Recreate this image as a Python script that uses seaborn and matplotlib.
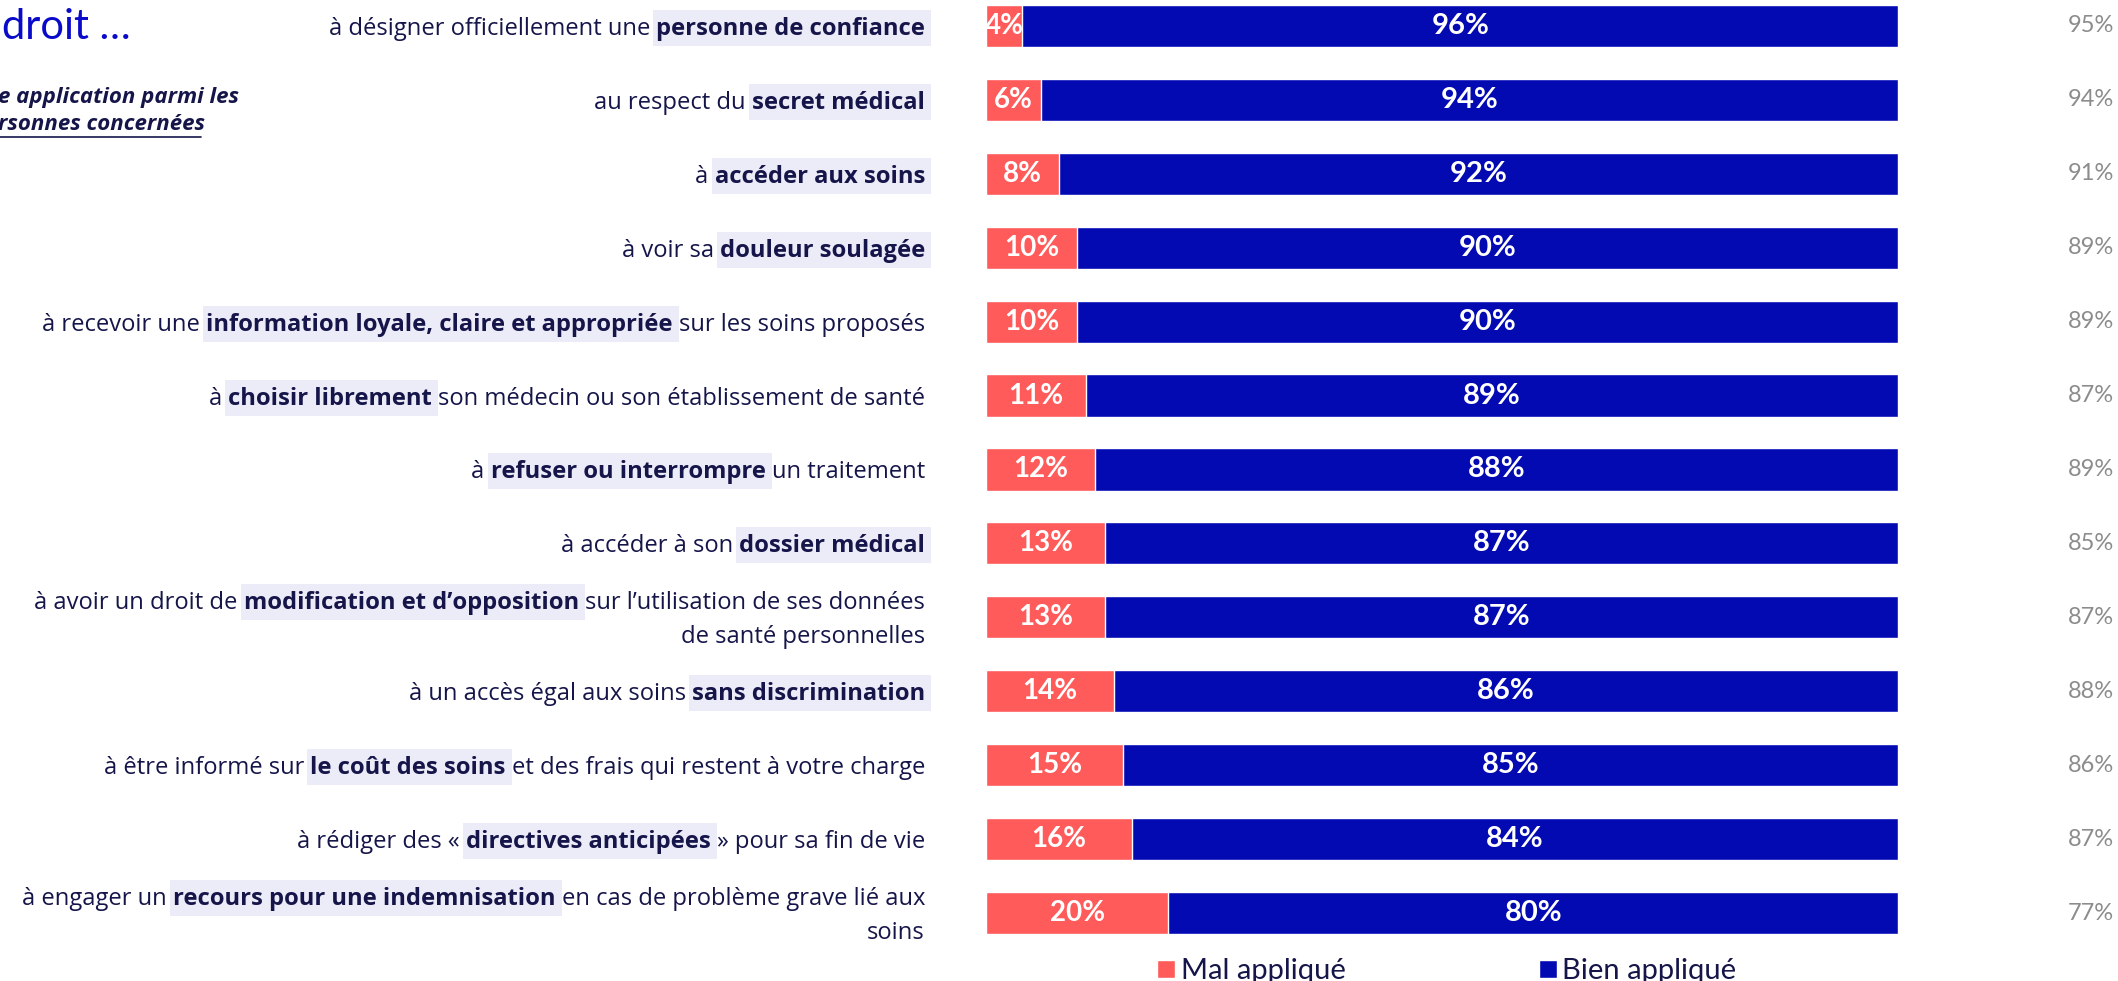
import matplotlib
matplotlib.use('Agg')
import pandas as pd
import seaborn as sns
import matplotlib.pyplot as plt
import matplotlib.transforms as mtransforms
from matplotlib.patches import Patch, Rectangle
from matplotlib.lines import Line2D

# valeurs
mal = [4, 6, 8, 10, 10, 11, 12, 13, 13, 14, 15, 16, 20]
bien = [96, 94, 92, 90, 90, 89, 88, 87, 87, 86, 85, 84, 80]
precedent = [95, 94, 91, 89, 89, 87, 89, 85, 87, 88, 86, 87, 77]

debut = ["à désigner officiellement une", "au respect du", "à", "à voir sa",
         "à recevoir une", "à", "à", "à accéder à son", "à avoir un droit de",
         "à un accès égal aux soins", "à être informé sur", "à rédiger des «",
         "à engager un"]
gras = ["personne de confiance", "secret médical", "accéder aux soins",
        "douleur soulagée", "information loyale, claire et appropriée",
        "choisir librement", "refuser ou interrompre", "dossier médical",
        "modification et d’opposition", "sans discrimination",
        "le coût des soins", "directives anticipées",
        "recours pour une indemnisation"]
fin = ["", "", "", "", "sur les soins proposés",
       "son médecin ou son établissement de santé", "un traitement", "",
       "sur l’utilisation de ses données", "",
       "et des frais qui restent à votre charge", "» pour sa fin de vie",
       "en cas de problème grave lié aux"]
ligne2 = ["", "", "", "", "", "", "", "", "de santé personnelles", "", "", "",
          "soins"]

ROUGE = '#FF5B5B'
BLEU = '#030AB2'
MARINE = '#15154A'
SURLIGNE = '#ECEBF8'

sns.set_theme(style='white')
plt.rcParams['font.family'] = ['Lato', 'DejaVu Sans']
POLICE = ['Open Sans', 'DejaVu Sans']

df = pd.DataFrame({'droit': gras, 'mal': mal, 'bien': bien})
df['total'] = df['mal'] + df['bien']

fig = plt.figure(figsize=(21.18, 9.81), dpi=100)
ax = fig.add_axes([986 / 2118, 1 - 957.4 / 981, 912 / 2118, 957.4 / 981])

sns.barplot(data=df, x='total', y='droit', color=BLEU, width=0.57,
            saturation=1, ax=ax, orient='h')
sns.barplot(data=df, x='mal', y='droit', color=ROUGE, width=0.57,
            saturation=1, ax=ax, orient='h')

ax.set_xlim(0, 100)
ax.set_ylim(12.6, -0.35)
ax.set_xlabel('')
ax.set_ylabel('')
ax.set_xticks([])
ax.set_yticks([])
sns.despine(ax=ax, left=True, bottom=True)

for i in range(len(df)):
    ax.text(mal[i] / 2, i, f"{mal[i]}%", color='white', fontsize=20,
            fontweight='bold', ha='center', va='center')
    ax.text(mal[i] + bien[i] / 2, i, f"{bien[i]}%", color='white',
            fontsize=21, fontweight='bold', ha='center', va='center')
    ax.text(123.7, i, f"{precedent[i]}%", color='#8C8C8C', fontsize=17,
            ha='right', va='center', clip_on=False)

# libellés composés (normal + gras surligné), alignés à droite
renderer = fig.canvas.get_renderer()
ident = mtransforms.IdentityTransform()
fs = 17.1
x_droite = 925


def largeur(t):
    return t.get_window_extent(renderer).width


sonde1 = fig.text(0, 0, 'xx', fontsize=fs, family=POLICE, transform=ident)
sonde2 = fig.text(0, 0, 'x x', fontsize=fs, family=POLICE, transform=ident)
espace = largeur(sonde2) - largeur(sonde1)
sonde1.remove()
sonde2.remove()

for i in range(len(df)):
    yc = ax.transData.transform((0, i))[1] - 3
    if ligne2[i]:
        fig.text(x_droite, yc - 17, ligne2[i], fontsize=fs, color=MARINE,
                 family=POLICE, ha='right', va='center', transform=ident)
        yc = yc + 17
    x = x_droite
    if fin[i]:
        t = fig.text(x, yc, fin[i], fontsize=fs, color=MARINE, ha='right',
                     family=POLICE, va='center', transform=ident)
        x -= largeur(t) + espace
    t = fig.text(x, yc, gras[i], fontsize=fs, color=MARINE, ha='right',
                 family=POLICE, va='center', fontweight='bold',
                 transform=ident, zorder=3)
    w = largeur(t)
    fig.add_artist(Rectangle((x - w - 3, yc - 17), w + 9, 36,
                             facecolor=SURLIGNE, edgecolor='none',
                             transform=ident, zorder=1))
    x -= w + espace
    fig.text(x, yc, debut[i], fontsize=fs, color=MARINE, ha='right',
             family=POLICE, va='center', transform=ident, zorder=3)

# titre et sous-titre coupés à gauche
fig.text(2, 981 - 27, 'droit …', fontsize=30, color='#0A0ACB',
         ha='left', va='center', transform=ident)
fig.text(-2, 981 - 97, 'e application parmi les', fontsize=16,
         color=MARINE, fontweight='bold', fontstyle='italic', ha='left',
         family=POLICE, va='center', transform=ident)
s = fig.text(-2, 981 - 125, 'rsonnes concernées', fontsize=16,
             color=MARINE, fontweight='bold', fontstyle='italic', ha='left',
             family=POLICE, va='center', transform=ident)
bb = s.get_window_extent(renderer)
fig.add_artist(Line2D([0, bb.x1 - 4], [981 - 137, 981 - 137], color=MARINE,
                      linewidth=1.2, transform=ident))

poignees = [Patch(facecolor=ROUGE, label='Mal appliqué'),
            Patch(facecolor=BLEU, label='Bien appliqué')]
fig.legend(handles=poignees, loc='center', bbox_to_anchor=(0.6832, 0.01),
           ncol=2, frameon=False, fontsize=21, labelcolor=MARINE,
           handlelength=0.6, handleheight=0.6, handletextpad=0.2,
           columnspacing=6.63)

fig.savefig('out.png', dpi=100)
